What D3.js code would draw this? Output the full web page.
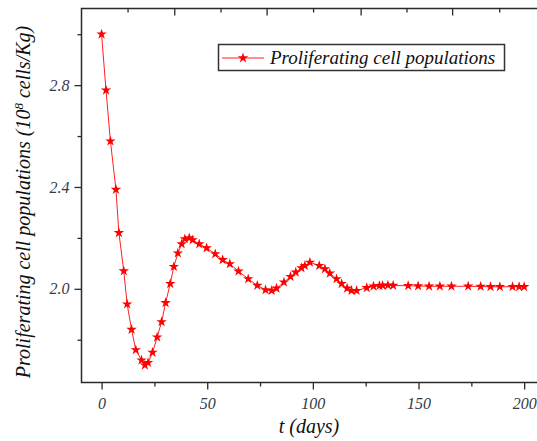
<!DOCTYPE html>
<html><head><meta charset="utf-8">
<script src="https://cdn.jsdelivr.net/npm/d3@7"></script>
<style>body{margin:0;background:#fff}svg{display:block}
text{font-family:"Liberation Serif","Tinos","DejaVu Serif",serif;font-style:italic}</style>
</head><body>
<script>
// ---- data ----
const tDays = [0, 2.1, 4.2, 6.8, 8.2, 10.5, 12.1, 14.2, 16.2, 18.9, 20.5, 22, 24.1, 26.3, 28.4, 30.3, 32.5, 34.2, 36.1, 37.9, 39.4, 41.5, 43.1, 46.2, 49.7, 53.8, 57.3, 60.7, 64.8, 69.4, 73.7, 77.6, 80.5, 82.8, 86.3, 89.4, 91.9, 94.6, 96.2, 98.6, 103, 105.7, 108, 111.2, 113.6, 116.2, 118.3, 120.7, 125.5, 128.7, 131.5, 133, 135.5, 138, 145.1, 149.8, 155, 160.1, 165.6, 173.5, 179.4, 184.1, 188.5, 194.5, 197.6, 200];
const popValues = [3.0, 2.78, 2.58, 2.39, 2.22, 2.07, 1.94, 1.84, 1.76, 1.72, 1.70, 1.71, 1.75, 1.81, 1.87, 1.945, 2.02, 2.087, 2.14, 2.176, 2.196, 2.20, 2.192, 2.176, 2.16, 2.137, 2.114, 2.098, 2.069, 2.039, 2.013, 1.996, 1.993, 2.002, 2.026, 2.048, 2.065, 2.082, 2.091, 2.104, 2.091, 2.078, 2.061, 2.039, 2.02, 2.002, 1.993, 1.993, 2.004, 2.01, 2.012, 2.013, 2.014, 2.013, 2.012, 2.011, 2.01, 2.01, 2.01, 2.01, 2.009, 2.008, 2.008, 2.008, 2.008, 2.008];
const xMajorTicks = [0, 50, 100, 150, 200];
const xMinorTicks = [25, 75, 125, 175];
const yMajorTicks = [2.0, 2.4, 2.8];
const yMinorTicks = [1.8, 2.2, 2.6, 3.0];
const topMajorTicks = [34.4, 78.1, 122.6, 165.9];
const topMinorTicks = [12.3, 56.3, 100.1, 144.3, 188.2];
const seriesName = "Proliferating cell populations";

const W = 537, H = 441;
const L = 81.5, T = 8.5, B = 382.5, R = 545.3;
const svg = d3.select("body").append("svg").attr("width", W).attr("height", H);

const x = d3.scaleLinear().domain([-9.5, 210]).range([L, R]);
const y = d3.scaleLinear().domain([1.632, 3.101]).range([B, T]);

const font = '"Liberation Serif","Tinos","DejaVu Serif",serif';
const axisCol = "#2a2a2a";

// axes
const gx = svg.append("g").attr("transform", `translate(0,${B})`)
  .call(d3.axisBottom(x).tickValues(xMajorTicks).tickSize(7).tickPadding(8).tickFormat(d3.format("d")));
const gxm = svg.append("g").attr("transform", `translate(0,${B})`)
  .call(d3.axisBottom(x).tickValues(xMinorTicks).tickSize(4).tickFormat(""));
const gy = svg.append("g").attr("transform", `translate(${L},0)`)
  .call(d3.axisLeft(y).tickValues(yMajorTicks).tickSize(7).tickPadding(5).tickFormat(d3.format(".1f")));
const gym = svg.append("g").attr("transform", `translate(${L},0)`)
  .call(d3.axisLeft(y).tickValues(yMinorTicks).tickSize(4).tickFormat(""));
const gt = svg.append("g").attr("transform", `translate(0,${T})`)
  .call(d3.axisBottom(x).tickValues(topMajorTicks).tickSize(7).tickFormat(""));
const gtm = svg.append("g").attr("transform", `translate(0,${T})`)
  .call(d3.axisBottom(x).tickValues(topMinorTicks).tickSize(4).tickFormat(""));

[gx, gxm, gy, gym, gt, gtm].forEach(g => {
  g.attr("font-family", font).attr("font-size", 16);
  g.selectAll(".domain").remove();
  g.selectAll(".tick line").attr("stroke", axisCol).attr("stroke-width", 1.3);
  g.selectAll(".tick text").attr("fill", "#333a48")
    .attr("font-family", font).attr("font-style", "italic").attr("font-size", 16);
});

// frame
svg.append("path").attr("d", `M${R},${T}H${L}V${B}H${R}`)
  .attr("fill", "none").attr("stroke", axisCol).attr("stroke-width", 1.5);

// line + stars
const pts = tDays.map((t, i) => [t, popValues[i]]);
svg.append("path").datum(pts)
  .attr("d", d3.line().x(d => x(d[0])).y(d => y(d[1])))
  .attr("fill", "none").attr("stroke", "#ff2020").attr("stroke-width", 1);
const star = d3.symbol().type(d3.symbolStar).size(34);
svg.append("g").selectAll("path").data(pts).join("path")
  .attr("transform", d => `translate(${x(d[0])},${y(d[1])})`)
  .attr("d", star).attr("fill", "#ff0000");

// legend
const lg = svg.append("g");
lg.append("rect").attr("x", 218.5).attr("y", 44.5).attr("width", 286).attr("height", 26)
  .attr("fill", "#fff").attr("stroke", "#333").attr("stroke-width", 1.5);
lg.append("line").attr("x1", 222).attr("x2", 264).attr("y1", 58).attr("y2", 58)
  .attr("stroke", "#ff2020").attr("stroke-width", 1);
lg.append("path").attr("transform", "translate(243,58)").attr("d", star).attr("fill", "#ff0000");
lg.append("text").attr("x", 270).attr("y", 64).text(seriesName)
  .attr("font-family", font).attr("font-style", "italic").attr("font-size", 19).attr("fill", "#111");

// axis titles
svg.append("text").attr("x", 309).attr("y", 433).attr("text-anchor", "middle")
  .attr("font-family", font).attr("font-style", "italic").attr("font-size", 20).attr("fill", "#111")
  .text("t (days)");
const yt = svg.append("text").attr("transform", "translate(30,202) rotate(-90)").attr("text-anchor", "middle")
  .attr("font-family", font).attr("font-style", "italic").attr("font-size", 20).attr("fill", "#111");
yt.append("tspan").text("Proliferating cell populations (10");
yt.append("tspan").attr("dy", -7).attr("font-size", 13).text("8");
yt.append("tspan").attr("dy", 7).text(" cells/Kg)");
</script>
</body></html>
